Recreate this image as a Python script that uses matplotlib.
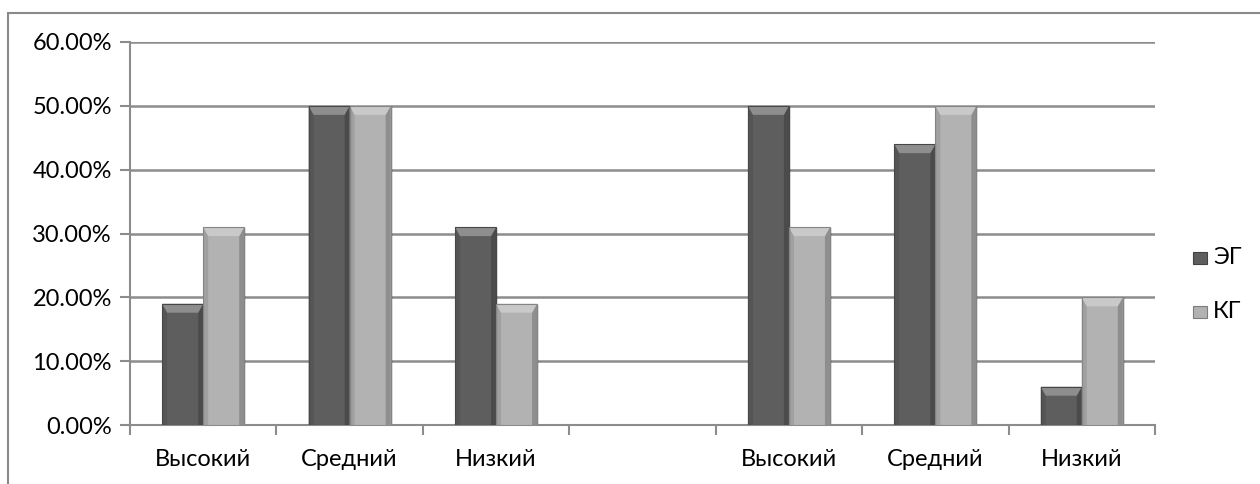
import matplotlib.pyplot as plt
import matplotlib.patches as patches
from matplotlib.ticker import FuncFormatter

categories = ["Высокий", "Средний", "Низкий", "", "Высокий", "Средний", "Низкий"]
eg = [19, 50, 31, 0, 50, 44, 6]
kg = [31, 50, 19, 0, 31, 50, 20]
series = [("ЭГ", eg, "#5e5e5e"), ("КГ", kg, "#b2b2b2")]

W, H = 1260, 484
fig = plt.figure(figsize=(W / 100, H / 100), dpi=100)
plt.rcParams['font.family'] = ['Lato', 'DejaVu Sans']

# outer chart frame (only left and top edges fall inside the image)
fig.add_artist(patches.Rectangle((8 / W, -0.1), 1.1, 1 - 13 / H + 0.1, transform=fig.transFigure,
                                 fill=False, edgecolor="#8a8a8a", linewidth=1.5))

x0, x1, y0, y1 = 130, 1155, 425, 42
ax = fig.add_axes([x0 / W, 1 - y0 / H, (x1 - x0) / W, (y0 - y1) / H])
ax.set_xlim(0, len(categories))
ax.set_ylim(0, 60)

px_x = len(categories) / (x1 - x0)
px_y = 60 / (y0 - y1)
bw = 41 * px_x


def shade(c, f):
    r, g, b = [int(c[i:i + 2], 16) / 255 for i in (1, 3, 5)]
    if f > 1:
        return tuple(v + (1 - v) * (f - 1) for v in (r, g, b))
    return (r * f, g * f, b * f)


def bevel_bar(x, h, color):
    if h <= 0:
        return
    bx, by = 5 * px_x, min(9 * px_y, h / 2)
    # soft shadow on the right
    ax.add_patch(patches.Rectangle((x + 2 * px_x, 0), bw, h - 1 * px_y, facecolor="#000000",
                                   alpha=0.12, edgecolor="none", zorder=2))
    ax.add_patch(patches.Rectangle((x, 0), bw, h, facecolor=color, edgecolor="none", zorder=3))
    # side strips
    ax.add_patch(patches.Polygon([(x, 0), (x + bx, 0), (x + bx, h - by), (x, h)],
                                 facecolor=shade(color, 0.9), edgecolor="none", zorder=3))
    ax.add_patch(patches.Polygon([(x + bw, 0), (x + bw - bx, 0), (x + bw - bx, h - by), (x + bw, h)],
                                 facecolor=shade(color, 0.8), edgecolor="none", zorder=3))
    # lighter top facet
    ax.add_patch(patches.Polygon([(x, h), (x + bw, h), (x + bw - bx, h - by), (x + bx, h - by)],
                                 facecolor=shade(color, 1.3), edgecolor="none", zorder=3))
    ax.add_patch(patches.Rectangle((x, 0), bw, h, fill=False, edgecolor=shade(color, 0.75),
                                   linewidth=0.8, zorder=4))


for i in range(len(categories)):
    left = i + 0.5 - bw
    bevel_bar(left, eg[i], series[0][2])
    bevel_bar(left + bw, kg[i], series[1][2])

ax.set_yticks(range(0, 61, 10))
ax.yaxis.set_major_formatter(FuncFormatter(lambda v, p: f"{v:.2f}%"))
ax.yaxis.grid(True, color="#8c8c8c", linewidth=1.8, zorder=0)
ax.set_axisbelow(True)

ax.set_xticks(range(len(categories) + 1))
ax.set_xticklabels([])
ax.set_xticks([i + 0.5 for i in range(len(categories))], minor=True)
ax.set_xticklabels(categories, minor=True, fontsize=17)
ax.tick_params(axis="x", which="minor", length=0, pad=17)
ax.tick_params(axis="x", which="major", length=7, color="#8c8c8c", width=1.5)
ax.tick_params(axis="y", length=7, color="#8c8c8c", width=1.5, labelsize=17, pad=6)

for s in ("top", "right"):
    ax.spines[s].set_visible(False)
for s in ("left", "bottom"):
    ax.spines[s].set_color("#8c8c8c")
    ax.spines[s].set_linewidth(1.5)

# legend
for j, (name, _, color) in enumerate(series):
    ly = 1 - (258 + 54 * j) / H
    fig.add_artist(patches.Rectangle((1193 / W, ly - 6 / H), 14 / W, 12 / H, transform=fig.transFigure,
                                     facecolor=color, edgecolor=shade(color, 0.7), linewidth=0.8))
    fig.text(1213 / W, ly, name, fontsize=17, va="center", ha="left")

fig.savefig("out.png", dpi=100)
